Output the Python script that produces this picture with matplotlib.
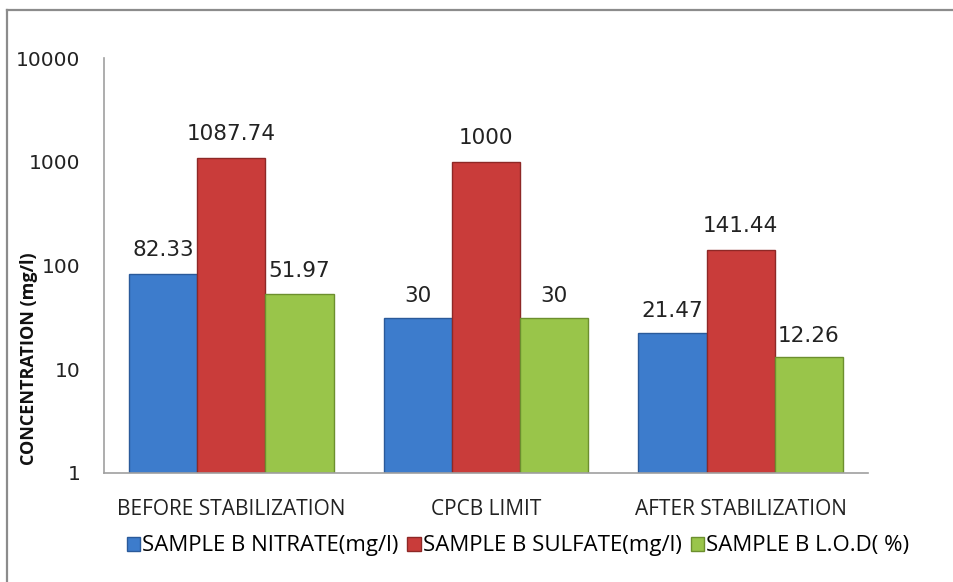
import matplotlib
matplotlib.use('Agg')

import numpy as np
import matplotlib.pyplot as plt
from matplotlib.lines import Line2D

# 数据
categories = ['BEFORE STABILIZATION', 'CPCB LIMIT', 'AFTER STABILIZATION']
series_names = ['SAMPLE B NITRATE(mg/l)', 'SAMPLE B SULFATE(mg/l)', 'SAMPLE B L.O.D( %)']
nitrate = [82.33, 30, 21.47]
sulfate = [1087.74, 1000, 141.44]
lod = [51.97, 30, 12.26]
label_text = [['82.33', '30', '21.47'],
              ['1087.74', '1000', '141.44'],
              ['51.97', '30', '12.26']]
y_ticks = [1, 10, 100, 1000, 10000]

colors = ['#3d7ccc', '#c93c3a', '#99c54a']
edges = ['#2a5a9a', '#8e2826', '#6c8f2e']

fig = plt.figure(figsize=(9.54, 5.82), dpi=100)
ax = fig.add_axes([104 / 954, 1 - 473 / 582, (868 - 104) / 954, (473 - 58) / 582])

x = np.arange(len(categories))
w = 0.268
for i, vals in enumerate([nitrate, sulfate, lod]):
    pos = x + (i - 1) * w
    ax.bar(pos, vals, width=w, bottom=1, color=colors[i], edgecolor=edges[i],
           linewidth=1.0, label=series_names[i], zorder=2)
    for px, v, t in zip(pos, vals, label_text[i]):
        ax.annotate(t, (px, v), xytext=(0, 10), textcoords='offset points',
                    ha='center', va='bottom', fontsize=15.5,
                    family='DejaVu Sans', color='#222222')

ax.set_yscale('log')
ax.set_ylim(1, 10000)
ax.set_xlim(-0.5, 2.5)
ax.set_yticks(y_ticks)
ax.set_yticklabels([str(t) for t in y_ticks], family='DejaVu Sans', fontsize=14.5)
ax.minorticks_off()
ax.set_xticks(x)
ax.set_xticklabels(categories, family='Open Sans', fontsize=15)
ax.tick_params(axis='both', length=0, colors='#222222')
ax.tick_params(axis='y', pad=17)
ax.tick_params(axis='x', pad=19)
for s in ['top', 'right']:
    ax.spines[s].set_visible(False)
for s in ['left', 'bottom']:
    ax.spines[s].set_color('#a0a0a0')
    ax.spines[s].set_linewidth(1.2)

fig.text(29 / 954, 1 - 359 / 582, 'CONCENTRATION (mg/l)', rotation=90,
         ha='center', va='center', family='Open Sans', fontweight='bold',
         fontsize=13, color='#111111')

handles = [plt.Rectangle((0, 0), 1, 1, facecolor=colors[i], edgecolor=edges[i])
           for i in range(3)]
fig.legend(handles, series_names, loc='center', bbox_to_anchor=(518 / 954, 1 - 546 / 582),
           ncol=3, frameon=False, prop={'family': 'Open Sans', 'size': 16},
           handlelength=0.6, handleheight=0.6, handletextpad=0.1, columnspacing=0.4)

# 外框
fig.add_artist(Line2D([7 / 954, 1.0], [1 - 10 / 582, 1 - 10 / 582],
                      transform=fig.transFigure, color='#8c8c8c', lw=1.6))
fig.add_artist(Line2D([7 / 954, 7 / 954], [0, 1 - 10 / 582],
                      transform=fig.transFigure, color='#8c8c8c', lw=1.6))

fig.savefig('out.png', dpi=100)
